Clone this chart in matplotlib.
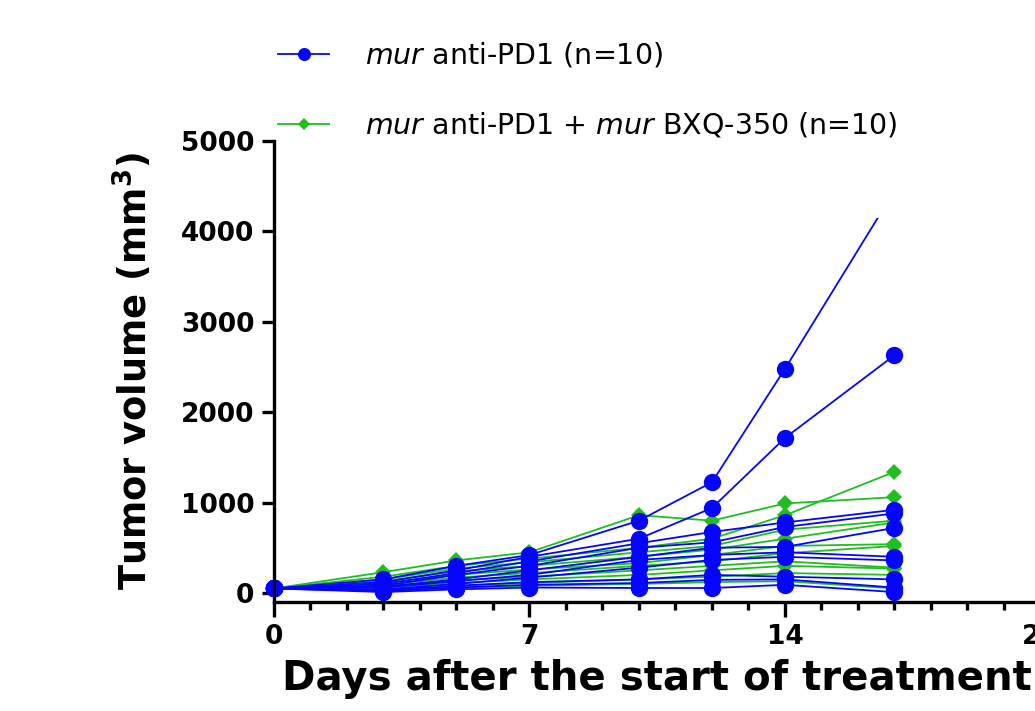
import matplotlib
matplotlib.use("Agg")
import matplotlib.pyplot as plt
from matplotlib.patches import Rectangle

plt.rcParams['font.family'] = ['DejaVu Sans']
plt.rcParams['mathtext.fontset'] = 'dejavusans'

# days of measurement
days = [0, 3, 5, 7, 10, 12, 14, 17]

# mur anti-PD1, one list per mouse (mm3)
pd1_m1 = [50, 150, 300, 420, 800, 1225, 2480, 4450]
pd1_m2 = [50, 120, 250, 400, 600, 940, 1715, 2630]
pd1_m3 = [50, 100, 220, 350, 550, 675, 780, 920]
pd1_m4 = [50, 80, 200, 300, 500, 560, 730, 880]
pd1_m5 = [50, 70, 150, 250, 400, 500, 510, 720]
pd1_m6 = [50, 60, 130, 200, 365, 420, 450, 400]
pd1_m7 = [50, 40, 100, 170, 280, 365, 400, 360]
pd1_m8 = [50, 30, 80, 120, 150, 200, 180, 150]
pd1_m9 = [50, 20, 60, 90, 110, 145, 150, 60]
pd1_m10 = [50, 10, 40, 60, 55, 55, 90, 10]

# mur anti-PD1 + mur BXQ-350
combo_m1 = [50, 230, 360, 450, 860, 800, 990, 1060]
combo_m2 = [50, 180, 300, 380, 500, 600, 860, 1340]
combo_m3 = [50, 150, 270, 340, 450, 520, 700, 800]
combo_m4 = [50, 130, 240, 300, 400, 480, 600, 780]
combo_m5 = [50, 110, 200, 260, 330, 420, 520, 540]
combo_m6 = [50, 90, 170, 220, 300, 350, 440, 520]
combo_m7 = [50, 70, 140, 180, 250, 300, 350, 280]
combo_m8 = [50, 60, 110, 150, 200, 250, 300, 270]
combo_m9 = [50, 40, 80, 110, 150, 180, 220, 200]
combo_m10 = [50, 30, 60, 80, 100, 120, 130, 50]

pd1 = [pd1_m1, pd1_m2, pd1_m3, pd1_m4, pd1_m5, pd1_m6, pd1_m7, pd1_m8, pd1_m9, pd1_m10]
combo = [combo_m1, combo_m2, combo_m3, combo_m4, combo_m5, combo_m6, combo_m7, combo_m8, combo_m9, combo_m10]

blue = '#0505ff'
green = '#1fbf1f'

fig = plt.figure(figsize=(10.35, 7.11), dpi=100)
ax = fig.add_axes([0.2647, 0.1533, 0.7406, 0.6484])

# the original graph cuts lines off a bit above 4000
clip = Rectangle((-1, -100), 30, 4250, transform=ax.transData)

for i, m in enumerate(combo):
    l, = ax.plot(days, m, color=green, lw=1.3, marker='D', ms=8, mew=0,
                 label='$\\it{mur}$ anti-PD1 + $\\it{mur}$ BXQ-350 (n=10)' if i == 0 else None)
    l.set_clip_path(clip)
for i, m in enumerate(pd1):
    l, = ax.plot(days, m, color=blue, lw=1.3, marker='o', ms=12.5, mew=0,
                 label='$\\it{mur}$ anti-PD1 (n=10)' if i == 0 else None)
    l.set_clip_path(clip)

ax.set_xlim(0, 21)
ax.set_ylim(-100, 5000)
ax.set_xticks([0, 7, 14, 21])
ax.set_xticks(range(0, 22), minor=True)
ax.set_yticks([0, 1000, 2000, 3000, 4000, 5000])

for s in ['top', 'right']:
    ax.spines[s].set_visible(False)
for s in ['left', 'bottom']:
    ax.spines[s].set_linewidth(2.4)

ax.tick_params(axis='both', which='major', width=2.4, length=9, labelsize=19, pad=5)
ax.tick_params(axis='x', which='major', length=11, pad=5)
ax.tick_params(axis='x', which='minor', width=2.4, length=6)
for t in ax.get_xticklabels() + ax.get_yticklabels():
    t.set_fontweight('bold')

ax.set_xlabel('Days after the start of treatment', fontsize=29, fontweight='bold', labelpad=6)
ax.set_ylabel('Tumor volume (mm$^{\\mathbf{3}}$)', fontsize=26.5, fontweight='bold', labelpad=18)

h, lab = ax.get_legend_handles_labels()
fig.legend(h[::-1], lab[::-1], loc='upper left', bbox_to_anchor=(0.2686, 0.943),
           frameon=False, fontsize=20.5, handlelength=1.8, handletextpad=1.25,
           labelspacing=1.45, borderpad=0, borderaxespad=0, markerscale=0.75)

fig.savefig('out.png', dpi=100)
